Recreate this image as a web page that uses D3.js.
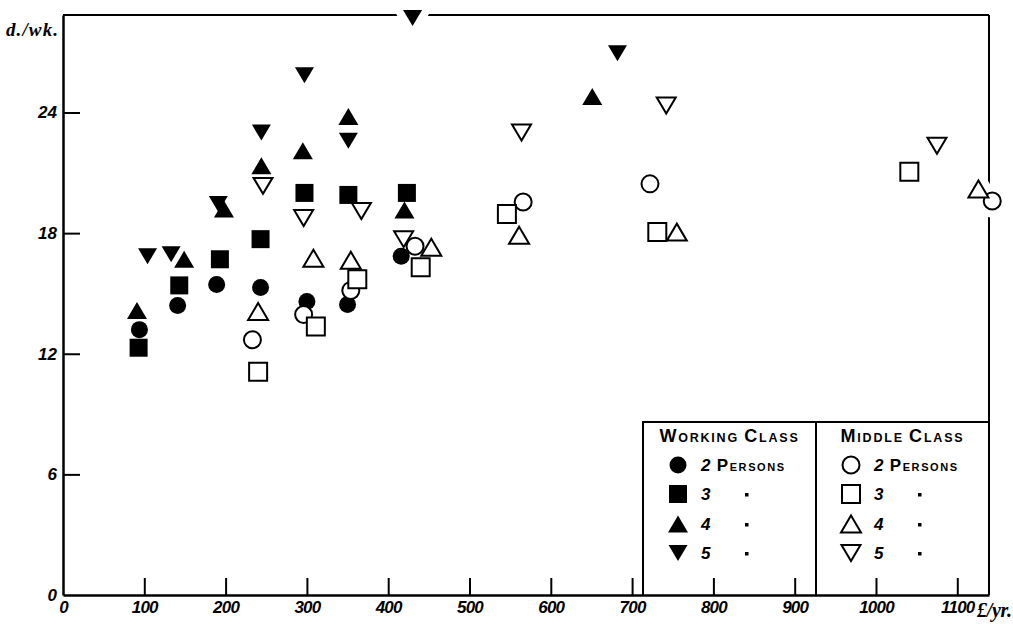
<!DOCTYPE html>
<html>
<head>
<meta charset="utf-8">
<script src="https://cdn.jsdelivr.net/npm/d3@7/dist/d3.min.js"></script>
<style>
    body { margin: 0; background: #fff; }
    svg { display: block; }
    text { font-family: "Liberation Sans", Arial, sans-serif; fill: #000; }
</style>
</head>
<body>
<div id="chart"></div>
<script>
// [income £/yr, expenditure d./wk.]
// working class (solid symbols)
const wc2 = [[94, 13.2], [141, 14.4], [189, 15.45], [243, 15.3], [300, 14.6], [350, 14.45], [416, 16.85]];
const wc3 = [[93, 12.3], [143, 15.4], [193, 16.7], [243, 17.7], [297, 20.0], [351, 19.9], [423, 20.0]];
const wc4 = [[91, 14.15], [149, 16.7], [198, 19.2], [244, 21.35], [295, 22.1], [351, 23.8], [420, 19.15], [651, 24.8]];
const wc5 = [[104, 16.85], [133, 16.95], [191, 19.45], [244, 23.0], [297, 25.85], [351, 22.6], [430, 28.7], [682, 26.95]];
// middle class (open symbols)
const mc2 = [[233, 12.7], [296, 13.95], [354, 15.15], [433, 17.35], [566, 19.55], [722, 20.45], [1143, 19.6]];
const mc3 = [[240, 11.1], [311, 13.35], [362, 15.7], [440, 16.3], [546, 18.95], [731, 18.05], [1041, 21.05]];
const mc4 = [[240, 14.1], [308, 16.75], [354, 16.65], [453, 17.3], [561, 17.9], [755, 18.05], [1126, 20.2]];
const mc5 = [[246, 20.35], [296, 18.75], [367, 19.1], [419, 17.7], [564, 23.0], [742, 24.35], [1075, 22.35]];

const xTicks = [0, 100, 200, 300, 400, 500, 600, 700, 800, 900, 1000, 1100];
const yTicks = [0, 6, 12, 18, 24];
const xMax = 1139;
const yMax = 28.85;

const sizes = ["2 Persons", "3", "4", "5"];
const shapes = ["circle", "square", "up", "down"];
const classes = ["Working Class", "Middle Class"];

const width = 1013, height = 624;
const margin = { top: 15, right: 24, bottom: 29, left: 63 };

const series = [
    { data: wc2, shape: "circle", filled: true },
    { data: wc3, shape: "square", filled: true },
    { data: wc4, shape: "up", filled: true },
    { data: wc5, shape: "down", filled: true },
    { data: mc2, shape: "circle", filled: false },
    { data: mc3, shape: "square", filled: false },
    { data: mc4, shape: "up", filled: false },
    { data: mc5, shape: "down", filled: false }
];

const svg = d3.select("#chart").append("svg")
    .attr("width", width)
    .attr("height", height)
    .attr("viewBox", [0, 0, width, height]);

const x = d3.scaleLinear().domain([0, xMax]).range([margin.left, width - margin.right]);
const y = d3.scaleLinear().domain([0, yMax]).range([height - margin.bottom, margin.top]);

// marker outlines, centred on 0,0
function shapePath(shape) {
    const p = d3.path();
    if (shape === "circle") {
        p.moveTo(8.5, 0);
        p.arc(0, 0, 8.5, 0, 2 * Math.PI);
    } else if (shape === "square") {
        p.rect(-9, -9, 18, 18);
    } else if (shape === "up") {
        p.moveTo(0, -8.5); p.lineTo(10, 8.5); p.lineTo(-10, 8.5); p.closePath();
    } else {
        p.moveTo(-9.5, -8); p.lineTo(9.5, -8); p.lineTo(0, 8); p.closePath();
    }
    return p.toString();
}

// axes: ticks point inwards
const yAxis = svg.append("g")
    .attr("transform", `translate(${margin.left},0)`)
    .call(d3.axisLeft(y).tickValues(yTicks).tickFormat(d3.format("d"))
        .tickSize(-17).tickSizeOuter(0).tickPadding(6));
const xAxis = svg.append("g")
    .attr("transform", `translate(0,${height - margin.bottom})`)
    .call(d3.axisBottom(x).tickValues(xTicks).tickFormat(d3.format("d"))
        .tickSize(-17).tickSizeOuter(0).tickPadding(6));

for (const ax of [xAxis, yAxis]) {
    ax.select(".domain").attr("stroke", "#000").attr("stroke-width", 2.5);
    ax.selectAll(".tick line").attr("stroke", "#000").attr("stroke-width", 2)
        .filter(d => d === 0).remove();
    ax.selectAll(".tick text")
        .style("font-family", '"Liberation Sans", Arial, sans-serif')
        .style("font-size", "17px")
        .style("font-weight", "bold")
        .style("font-style", "italic")
        .attr("fill", "#000");
}
xAxis.selectAll(".tick text").style("letter-spacing", "-0.8px");

// top and right frame
const frame = svg.append("g").attr("stroke", "#000").attr("fill", "none");
frame.append("line")
    .attr("x1", x(0)).attr("x2", x(xMax))
    .attr("y1", y(yMax)).attr("y2", y(yMax))
    .attr("stroke-width", 1.8);
frame.append("line")
    .attr("x1", x(xMax)).attr("x2", x(xMax))
    .attr("y1", y(yMax)).attr("y2", y(0))
    .attr("stroke-width", 2);

// axis titles
svg.append("text")
    .attr("x", 6).attr("y", 36)
    .attr("textLength", 52)
    .style("font-family", '"Liberation Serif", serif')
    .style("font-style", "italic")
    .style("font-weight", "bold")
    .style("font-size", "19px")
    .text("d./wk.");
svg.append("text")
    .attr("x", 977).attr("y", 617)
    .attr("textLength", 35)
    .style("font-family", '"Liberation Serif", serif')
    .style("font-style", "italic")
    .style("font-weight", "bold")
    .style("font-size", "20px")
    .text("£/yr.");

// legend box
const lg = { left: 643, top: 422, mid: 816, right: x(xMax), bottom: y(0) };
const legend = svg.append("g");
legend.append("path")
    .attr("d", `M${lg.left},${lg.bottom}V${lg.top}H${lg.right}M${lg.mid},${lg.top}V${lg.bottom}`)
    .attr("fill", "none").attr("stroke", "#000").attr("stroke-width", 2);

// small-caps lettering: first letter of each word big
function smallCaps(sel, str, big, small) {
    str.split(" ").forEach((w, i) => {
        if (i > 0) sel.append("tspan").style("font-size", small + "px").text(" ");
        const first = w[0];
        sel.append("tspan")
            .style("font-size", big + "px")
            .style("font-style", /\d/.test(first) ? "italic" : "normal")
            .text(first);
        if (w.length > 1) {
            sel.append("tspan").style("font-size", small + "px").text(w.slice(1).toUpperCase());
        }
    });
}

const rowY = [465, 494, 524, 553];
classes.forEach((c, ci) => {
    const left = ci === 0 ? lg.left : lg.mid;
    const right = ci === 0 ? lg.mid : lg.right;
    const head = legend.append("text")
        .attr("x", (left + right) / 2).attr("y", 442)
        .attr("text-anchor", "middle")
        .style("font-weight", "bold")
        .style("letter-spacing", "1.8px");
    smallCaps(head, c, 18, 12.5);

    sizes.forEach((s, si) => {
        const cy = rowY[si];
        legend.append("path")
            .attr("d", shapePath(shapes[si]))
            .attr("transform", `translate(${left + 35},${cy})`)
            .attr("fill", ci === 0 ? "#000" : "#fff")
            .attr("stroke", "#000")
            .attr("stroke-width", ci === 0 ? 0 : 2);
        const t = legend.append("text")
            .attr("x", left + 58).attr("y", cy + 6)
            .style("font-weight", "bold")
            .style("letter-spacing", "1.6px");
        if (si === 0) {
            smallCaps(t, s, 17, 11);
        } else {
            t.style("font-style", "italic").style("font-size", "17px").text(s);
            legend.append("rect")
                .attr("x", left + 102).attr("y", cy - 1)
                .attr("width", 3.5).attr("height", 3.5)
                .attr("fill", "#000");
        }
    });
});

// white halo under the markers so they break the frame lines
const halo = svg.append("g");
const marks = svg.append("g");
for (const s of series) {
    halo.selectAll(null)
        .data(s.data)
        .join("path")
        .attr("d", shapePath(s.shape))
        .attr("transform", d => `translate(${x(d[0])},${y(d[1])})`)
        .attr("fill", "#fff")
        .attr("stroke", "#fff")
        .attr("stroke-width", 16)
        .attr("stroke-linejoin", "round");
}
for (const s of series) {
    marks.selectAll(null)
        .data(s.data)
        .join("path")
        .attr("d", shapePath(s.shape))
        .attr("transform", d => `translate(${x(d[0])},${y(d[1])})`)
        .attr("fill", s.filled ? "#000" : "#fff")
        .attr("stroke", "#000")
        .attr("stroke-width", s.filled ? 0 : 2);
}
</script>
</body>
</html>
